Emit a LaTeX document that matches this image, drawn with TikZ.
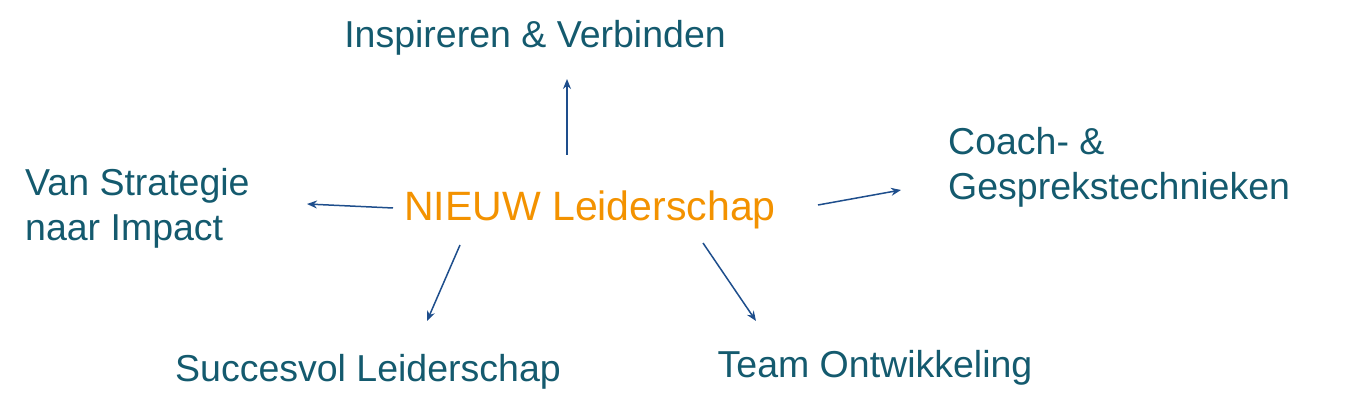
\documentclass[tikz,border=0pt]{standalone}
\usepackage{fontspec}
\setmainfont{Liberation Sans}
\usetikzlibrary{arrows.meta}
\definecolor{tealtxt}{RGB}{20,90,110}
\definecolor{orng}{RGB}{243,146,0}
\definecolor{arr}{RGB}{30,78,140}
\begin{document}
\begin{tikzpicture}[x=1pt,y=-1pt,
  lbl/.style={text=tealtxt,font=\fontsize{37.5}{45}\selectfont,inner sep=0pt},
  con/.style={draw=arr,line width=1.5pt,-{Stealth[length=10pt,width=8pt]}}]
\useasboundingbox (0,0) rectangle (1350,414);
\node[lbl] (insp) at (535,38) {Inspireren \& Verbinden};
\node[text=orng,font=\fontsize{41}{48}\selectfont,inner sep=0pt] (mid) at (590,210) {NIEUW Leiderschap};
\node[lbl,anchor=north west,align=left] (coach) at (948,127) {Coach- \&\\Gesprekstechnieken};
\node[lbl,anchor=north west,align=left] (van) at (25,168) {Van Strategie\\naar Impact};
\node[lbl] (succ) at (368,372) {Succesvol Leiderschap};
\node[lbl] (team) at (875,368) {Team Ontwikkeling};
\coordinate (a1) at (567,155); \coordinate (b1) at (567,79);
\coordinate (a2) at (393,208); \coordinate (b2) at (307,204);
\coordinate (a3) at (818,205); \coordinate (b3) at (901,190);
\coordinate (a4) at (460,245); \coordinate (b4) at (427,321);
\coordinate (a5) at (703,243); \coordinate (b5) at (756,321);
\draw[con] (a1) -- (b1);
\draw[con] (a2) -- (b2);
\draw[con] (a3) -- (b3);
\draw[con] (a4) -- (b4);
\draw[con] (a5) -- (b5);
\end{tikzpicture}
\end{document}
